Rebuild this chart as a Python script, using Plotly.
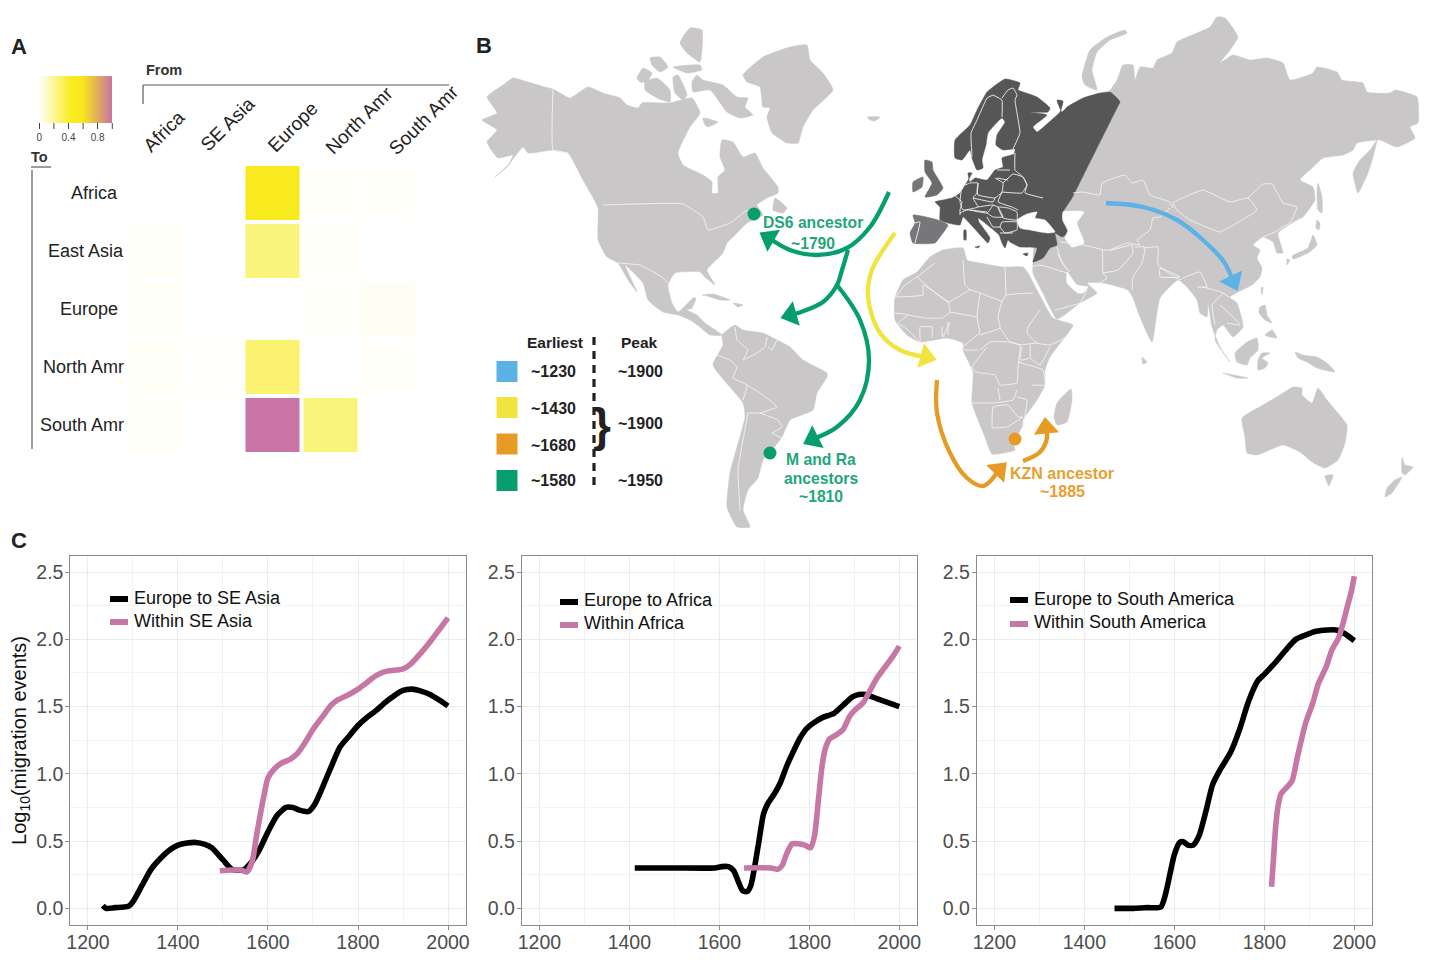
import plotly.graph_objects as go

W, H = 1440, 977
FONT = "Liberation Sans"

# ---------- panel A: migration proportions between regions ----------
FROM_REGIONS = ["Africa", "SE Asia", "Europe", "North Amr", "South Amr"]
TO_REGIONS = ["Africa", "East Asia", "Europe", "North Amr", "South Amr"]
TO_AFRICA = [0.0, 0.0, 0.52, 0.01, 0.01]
TO_EAST_ASIA = [0.015, 0.0, 0.26, 0.01, 0.0]
TO_EUROPE = [0.015, 0.0, 0.0, 0.01, 0.02]
TO_NORTH_AMR = [0.015, 0.005, 0.28, 0.0, 0.01]
TO_SOUTH_AMR = [0.015, 0.0, 1.0, 0.26, 0.0]
HEAT_SCALE = [[0, "#FFFFFF"], [0.44, "#F8EC1E"], [0.6, "#F8E71E"], [0.8, "#E2AD5C"], [1, "#C874A5"]]
HEAT_TICKS = [0, 0.4, 0.8]
HEAT_TICK_TEXT = ["0", "0.4", "0.8"]
HEAT_UNLABELLED_TICKS = [0.2, 0.6, 1.0]

# ---------- panel C: log10 migration events through time ----------
YEARS_SEA_EU = [1233, 1240, 1260, 1290, 1300, 1320, 1340, 1355, 1380, 1400, 1420, 1440, 1460, 1475, 1500, 1520, 1545, 1560, 1580, 1600, 1620, 1640, 1655, 1670, 1690, 1705, 1720, 1740, 1760, 1780, 1800, 1820, 1840, 1860, 1880, 1900, 1920, 1940, 1960, 1980, 2000]
LOG_SEA_EU = [0.02, 0.0, 0.005, 0.015, 0.05, 0.17, 0.29, 0.35, 0.43, 0.47, 0.485, 0.49, 0.475, 0.45, 0.36, 0.29, 0.285, 0.33, 0.43, 0.57, 0.69, 0.75, 0.75, 0.73, 0.72, 0.78, 0.89, 1.05, 1.2, 1.28, 1.36, 1.42, 1.47, 1.53, 1.58, 1.62, 1.63, 1.615, 1.59, 1.55, 1.505]
YEARS_SEA_IN = [1493, 1520, 1540, 1553, 1565, 1575, 1590, 1600, 1615, 1630, 1650, 1665, 1680, 1700, 1720, 1740, 1755, 1780, 1800, 1820, 1840, 1860, 1880, 1900, 1915, 1940, 1960, 1980, 2000]
LOG_SEA_IN = [0.28, 0.285, 0.285, 0.27, 0.35, 0.55, 0.82, 0.97, 1.04, 1.08, 1.11, 1.15, 1.22, 1.33, 1.42, 1.51, 1.55, 1.59, 1.63, 1.68, 1.73, 1.76, 1.77, 1.78, 1.81, 1.9, 1.98, 2.07, 2.16]
YEARS_AF_EU = [1412, 1500, 1590, 1605, 1620, 1632, 1642, 1652, 1662, 1670, 1678, 1688, 1698, 1708, 1722, 1735, 1750, 1765, 1780, 1795, 1810, 1830, 1855, 1875, 1895, 1910, 1925, 1950, 1975, 2000]
LOG_AF_EU = [0.3, 0.3, 0.3, 0.31, 0.31, 0.28, 0.2, 0.13, 0.125, 0.17, 0.3, 0.5, 0.7, 0.78, 0.85, 0.93, 1.06, 1.17, 1.27, 1.34, 1.38, 1.42, 1.45, 1.51, 1.57, 1.59, 1.59, 1.56, 1.53, 1.5]
YEARS_AF_IN = [1655, 1715, 1730, 1740, 1750, 1762, 1775, 1790, 1803, 1812, 1820, 1828, 1835, 1845, 1860, 1875, 1890, 1900, 1920, 1935, 1950, 1965, 1985, 2000]
LOG_AF_IN = [0.3, 0.3, 0.29, 0.32, 0.41, 0.48, 0.48, 0.47, 0.45, 0.55, 0.8, 1.05, 1.18, 1.26, 1.29, 1.33, 1.43, 1.47, 1.53, 1.62, 1.71, 1.78, 1.87, 1.95]
YEARS_SA_EU = [1467, 1510, 1540, 1570, 1580, 1590, 1600, 1612, 1620, 1630, 1642, 1655, 1670, 1685, 1700, 1725, 1745, 1765, 1785, 1800, 1825, 1850, 1870, 1890, 1915, 1940, 1960, 1980, 2000]
LOG_SA_EU = [0.0, 0.0, 0.005, 0.01, 0.1, 0.25, 0.4, 0.49, 0.495, 0.47, 0.47, 0.54, 0.72, 0.92, 1.02, 1.16, 1.33, 1.54, 1.69, 1.74, 1.83, 1.93, 2.0, 2.03, 2.06, 2.07, 2.07, 2.04, 1.99]
YEARS_SA_IN = [1816, 1820, 1825, 1830, 1837, 1850, 1862, 1872, 1880, 1892, 1908, 1920, 1938, 1950, 1965, 1975, 1985, 1993, 2000]
LOG_SA_IN = [0.16, 0.35, 0.6, 0.75, 0.85, 0.9, 0.95, 1.1, 1.22, 1.38, 1.53, 1.67, 1.8, 1.92, 2.01, 2.12, 2.25, 2.35, 2.47]

BLACK, PINK = "#000000", "#C677A6"
TIME_X_RANGE = [1160.7, 2040]
TIME_Y_RANGE = [-0.124, 2.62]

# ---------- panel B: simplified map outlines in planar map units ----------
NORTH_AMERICA = [(513,78),(528,82),(545,87),(553,89),(570,98),(588,87),(603,93),(620,98),(627,105),(638,108),(642,103),(670,103),(692,98),(700,113),(690,127),(678,153),(683,165),(703,175),(712,182),(712,193),(718,193),(718,177),(725,170),(720,157),(722,140),(733,142),(743,157),(755,153),(763,168),(778,187),(778,193),(767,198),(757,205),(763,215),(747,223),(737,233),(727,243),(723,253),(707,270),(715,285),(705,277),(700,272),(675,273),(668,285),(672,303),(678,312),(693,298),(696,298),(692,308),(687,310),(697,315),(705,323),(722,335),(710,335),(700,327),(690,320),(678,315),(663,312),(648,300),(643,283),(625,265),(637,292),(628,280),(618,263),(607,257),(598,240),(598,208),(583,180),(568,153),(553,150),(528,153),(523,147),(507,167),(495,177),(508,165),(513,155),(498,158),(487,142),(497,130),(482,120),(497,113),(487,97),(503,85)]
GREENLAND = [(743,75),(763,57),(790,47),(807,45),(810,60),(823,73),(833,90),(813,110),(803,127),(798,143),(787,143),(772,133),(767,117),(770,108),(763,107),(760,87),(747,82)]
ARCTIC_ISLANDS = [
    [(692,82),(697,75),(703,80),(723,85),(737,97),(748,98),(745,107),(753,115),(740,118),(727,112),(710,90),(693,92)],
    [(637,78),(643,68),(652,73),(647,82),(640,82)],
    [(645,82),(657,78),(670,90),(670,102),(657,98),(645,90)],
    [(673,77),(678,75),(687,95),(683,100),(675,93)],
    [(680,43),(690,28),(702,30),(700,62),(687,53)],
    [(650,58),(660,57),(668,67),(660,72),(652,65)],
    [(673,67),(700,65),(702,70),(687,73)],
    [(703,118),(718,122),(708,127),(705,125)],
    [(775,198),(787,208),(783,213),(773,210)],
    [(867,117),(880,117),(875,121),(870,120)],
]
CARIBBEAN = [
    [(702,295),(713,294),(730,300),(720,300),(707,296)],
    [(733,303),(743,305),(738,307)],
]
SOUTH_AMERICA = [(722,335),(735,325),(743,330),(763,333),(777,340),(790,347),(803,360),(827,373),(827,377),(817,393),(813,410),(790,420),(782,437),(772,450),(763,460),(758,478),(748,490),(743,510),(750,527),(737,527),(727,507),(730,473),(745,417),(743,403),(713,365),(723,345)]
AFRICA = [(963,248),(967,260),(980,263),(1003,267),(1023,267),(1028,273),(1037,290),(1053,318),(1073,325),(1065,337),(1050,357),(1045,370),(1045,385),(1037,400),(1023,420),(1022,427),(1013,443),(1015,450),(992,454),(985,437),(972,403),(973,372),(963,350),(963,343),(947,338),(920,342),(907,335),(895,320),(895,298),(903,280),(917,272),(930,257),(943,250)]
MADAGASCAR = [(1057,403),(1071,389),(1072,400),(1067,422),(1057,425),(1054,417)]
ASIA = [(1105,98),(1117,80),(1123,65),(1133,65),(1135,80),(1140,67),(1153,68),(1157,60),(1172,53),(1177,42),(1197,33),(1210,27),(1217,17),(1225,18),(1238,37),(1230,50),(1220,63),(1233,55),(1250,60),(1267,58),(1283,63),(1290,80),(1313,73),(1317,67),(1337,72),(1342,80),(1363,83),(1367,92),(1390,93),(1395,90),(1417,97),(1418,123),(1410,127),(1415,138),(1397,147),(1380,140),(1357,143),(1353,150),(1343,155),(1323,158),(1312,168),(1300,180),(1313,187),(1315,200),(1303,217),(1297,220),(1278,233),(1283,253),(1277,253),(1273,242),(1263,237),(1253,245),(1260,250),(1257,258),(1262,268),(1260,277),(1252,285),(1238,292),(1230,297),(1237,303),(1243,327),(1233,337),(1223,325),(1217,330),(1215,340),(1230,362),(1220,347),(1212,327),(1208,303),(1207,317),(1200,313),(1197,300),(1187,287),(1178,280),(1160,298),(1152,342),(1140,317),(1133,298),(1128,290),(1103,283),(1087,283),(1097,293),(1080,303),(1057,319),(1043,293),(1033,273),(1033,262),(1035,240),(1060,225),(1063,212),(1070,190),(1085,150)]
KAMCHATKA = [(1377,140),(1373,157),(1368,173),(1358,193),(1353,173),(1360,160),(1370,150)]
ASIAN_ISLANDS = [
    [(1125,30),(1127,33),(1110,40),(1097,52),(1092,70),(1097,90),(1085,85),(1082,77),(1090,50),(1107,37)],
    [(1292,256),(1308,248),(1313,235),(1317,245),(1308,253),(1293,259)],
    [(1317,220),(1320,223),(1319,230),(1316,228)],
    [(1287,259),(1290,260),(1287,265)],
    [(1318,183),(1322,197),(1322,213),(1318,210),(1317,193)],
    [(1235,353),(1247,342),(1257,338),(1258,350),(1250,358),(1247,365),(1237,362)],
    [(1258,360),(1262,353),(1270,353),(1262,358),(1268,363),(1265,368),(1258,370)],
    [(1295,352),(1303,355),(1317,357),(1327,363),(1335,372),(1317,368),(1307,362),(1298,358)],
    [(1223,373),(1248,378),(1237,378)],
    [(1260,307),(1265,305),(1267,315),(1272,323),(1265,320),(1259,313)],
    [(1265,335),(1272,330),(1277,338),(1270,337)],
    [(1261,288),(1263,287),(1262,295)],
    [(1142,357),(1147,362),(1143,364)],
]
AUSTRALIA = [(1242,418),(1263,405),(1280,395),(1293,387),(1302,388),(1302,395),(1312,403),(1318,388),(1327,400),(1337,412),(1347,425),(1345,443),(1338,460),(1325,468),(1312,462),(1300,452),(1283,445),(1257,455),(1247,453),(1245,437)]
OCEANIA_ISLANDS = [
    [(1325,476),(1333,475),(1329,486)],
    [(1402,457),(1405,465),(1413,467),(1405,475),(1402,473)],
    [(1402,477),(1392,493),(1385,497),(1387,488),(1395,480)],
]
EUROPE_RUSSIA = [(1120,102),(1118,99),(1110,92),(1100,93),(1083,98),(1067,107),(1062,112),(1057,100),(1063,101),(1060,112),(1048,123),(1037,132),(1033,127),(1047,115),(1030,112),(1048,112),(1050,108),(1037,97),(1023,92),(1018,90),(1020,83),(1005,79),(993,87),(987,92),(978,108),(970,125),(955,140),(955,158),(962,160),(970,150),(972,158),(977,170),(983,168),(982,160),(986,145),(988,133),(1002,118),(1005,122),(997,135),(996,145),(1003,150),(1015,149),(1014,154),(1002,158),(1003,167),(995,170),(987,180),(975,178),(970,182),(968,173),(972,173),(967,182),(960,193),(952,198),(935,202),(940,207),(940,220),(948,223),(960,225),(963,217),(973,227),(982,237),(988,243),(990,238),(979,222),(978,218),(990,227),(999,235),(1002,243),(1005,248),(1008,240),(1010,242),(1020,247),(1037,248),(1033,262),(1043,258),(1050,248),(1057,245),(1055,233),(1062,237),(1068,233),(1062,220),(1063,212),(1072,198),(1084,174),(1096,150),(1108,126),(1118,106)]
EUROPE_ISLANDS = [
    [(975,247),(980,246),(978,248)],
    [(964,230),(966,230),(966,240),(964,240)],
    [(1023,254),(1028,253),(1027,256)],
]
IBERIA = [(913,215),(938,220),(948,225),(940,237),(935,243),(913,243),(910,233),(915,223)]
BRITAIN = [(925,160),(932,162),(933,170),(943,188),(937,195),(925,197),(932,183),(925,172)]
IRELAND = [(913,182),(923,177),(922,187),(913,192)]
INLAND_SEAS = [
    [(1017,220),(1027,214),(1037,212),(1035,218),(1045,220),(1055,232),(1047,233),(1030,230),(1020,228)],
    [(1063,212),(1084,212),(1077,223),(1084,243),(1072,247),(1065,238),(1068,230),(1063,220)],
    [(1067,272),(1077,285),(1088,287),(1083,293),(1078,293),(1067,283)],
]
# country boundaries, each one an open polyline
BORDERS_AMERICAS = [
    [(553,89),(553,150),(568,153)],
    [(603,205),(683,204),(703,217),(708,230),(730,223),(747,210)],
    [(618,263),(640,265),(650,270),(662,277),(668,283)],
    [(735,327),(737,340),(748,350),(743,360)],
    [(743,360),(757,353),(765,347),(767,337)],
    [(777,340),(772,350),(768,347)],
    [(717,355),(730,360),(737,367),(733,378),(747,385),(743,400)],
    [(747,385),(763,395),(777,407),(760,413),(748,413)],
    [(760,413),(778,420),(782,427),(772,433)],
    [(772,433),(785,440)],
    [(748,413),(738,470),(740,510)],
]
BORDERS_AFRICA = [
    [(935,263),(917,277),(905,285),(895,298)],
    [(917,277),(948,302),(970,290),(980,293)],
    [(963,260),(965,285),(970,290)],
    [(1005,267),(1006,295)],
    [(980,293),(1002,301),(1006,295),(1033,293)],
    [(980,293),(977,317),(980,333)],
    [(1002,301),(998,317),(1000,328),(980,335)],
    [(1000,328),(1010,342),(1020,345)],
    [(1040,310),(1028,327),(1027,333),(1037,343),(1050,345),(1065,338)],
    [(1020,345),(1037,343)],
    [(897,297),(923,295),(923,285),(948,302),(950,312),(942,318),(925,318),(908,315)],
    [(950,312),(977,317)],
    [(950,322),(943,337)],
    [(980,333),(963,347),(965,350),(978,350)],
    [(980,350),(990,342),(1010,342),(1020,345),(1018,367),(1017,383),(1000,385),(995,375),(975,372),(972,367),(987,347)],
    [(1018,362),(1043,370),(1045,385),(1032,385)],
    [(1022,347),(1020,360),(1030,358),(1030,345)],
    [(1030,358),(1040,365),(1050,347)],
    [(972,403),(993,403),(1013,400),(1017,390)],
    [(998,388),(1000,400)],
    [(992,428),(993,407),(1008,405),(1018,417),(1023,417)],
    [(992,428),(1007,427),(1023,417)],
    [(1017,397),(1027,400),(1023,427)],
    [(895,313),(908,315),(898,323),(908,330),(920,342),(920,327),(932,327),(932,338)],
    [(942,327),(942,337)],
    [(948,322),(948,335)],
]
BORDERS_ASIA = [
    [(1073,193),(1083,192),(1100,195),(1102,183),(1125,175),(1132,183),(1143,180),(1150,195),(1170,202),(1173,208)],
    [(1173,203),(1203,190),(1230,202),(1248,198),(1257,210),(1237,223),(1220,232),(1190,220),(1177,210),(1173,203)],
    [(1248,198),(1263,184),(1272,184),(1283,203),(1297,207),(1290,223),(1282,227),(1275,232),(1263,237)],
    [(1170,208),(1160,217),(1153,218),(1150,230),(1137,240),(1140,245),(1127,243),(1110,250)],
    [(1060,242),(1083,245),(1102,250),(1103,273),(1107,278),(1100,283)],
    [(1102,250),(1112,250),(1132,245),(1133,253),(1118,270),(1103,273)],
    [(1135,247),(1145,247),(1142,263),(1133,277),(1132,290)],
    [(1143,248),(1158,247),(1158,265),(1180,280),(1185,277),(1200,272),(1207,287),(1197,287)],
    [(1160,268),(1180,277),(1160,277),(1160,268)],
    [(1203,287),(1223,293),(1212,305),(1215,325)],
    [(1223,293),(1237,302)],
    [(1220,305),(1233,317),(1240,325),(1227,323)],
    [(1030,267),(1040,265),(1067,273)],
    [(1057,247),(1062,263),(1070,272)],
    [(1055,310),(1080,303),(1087,290)],
    [(1057,253),(1067,270)],
]
BORDERS_EUROPE = [
    [(993,95),(987,98),(977,120),(971,133),(972,157)],
    [(993,95),(1002,100),(1002,117)],
    [(1002,98),(1008,90),(1013,88),(1017,95),(1015,100),(1020,133),(1013,149)],
    [(1015,153),(1015,170),(1023,177),(1027,185),(1025,193),(1043,198)],
    [(997,170),(1010,170)],
    [(997,178),(1008,180)],
    [(978,183),(977,190),(978,195),(995,198),(1002,192),(1003,183),(995,178)],
    [(1003,183),(1013,174),(1023,177),(1027,185),(1022,193),(1002,192)],
    [(1002,192),(998,202),(1012,207),(1018,210)],
    [(998,207),(1008,208),(1017,212),(1017,220),(1003,218),(998,207)],
    [(962,187),(970,183),(978,183),(977,193),(973,198),(978,207),(963,210),(960,202),(962,187)],
    [(954,195),(962,202),(960,210),(960,215)],
    [(960,213),(967,210),(987,212)],
    [(978,207),(993,205),(987,213),(970,210)],
    [(973,198),(993,202),(995,198)],
    [(993,205),(998,207),(1003,217),(993,217),(987,213)],
    [(1002,222),(1017,222),(1017,230),(1005,233),(1000,227),(1002,222)],
    [(987,217),(993,227),(1000,227)],
    [(1000,233),(1013,233)],
    [(954,195),(963,188)],
]
IBERIA_BORDER = [(915,223),(920,222),(915,243)]

LAND_GREY = "#C9C7C7"
EUROPE_GREY = "#565656"
IBERIA_GREY = "#77777A"
ISLES_GREY = "#6C6C6C"

# migration routes: shaft waypoints, previous point and centre of the arrowhead
GREEN, YELLOW, ORANGE, BLUE = "#079E6F", "#F2E43E", "#E59B25", "#5AB2E5"
ROUTES = [
    (GREEN, [(889,192),(870,227),(847,248),(817,255),(790,250),(769,238)]),
    (GREEN, [(848,250),(842,270),(837,285),(823,302),(798,313),(791,315)]),
    (GREEN, [(837,285),(860,320),(869,360),(860,400),(837,427),(813,439)]),
    (YELLOW, [(895,233),(872,270),(868,297),(880,333),(900,350),(926,357)]),
    (ORANGE, [(937,380),(937,413),(950,453),(967,478),(983,486),(999,470)]),
    (ORANGE, [(1023,461),(1040,452),(1047,438),(1046,428)]),
    (BLUE, [(1106,203),(1143,207),(1177,220),(1203,240),(1224,262),(1233,281)]),
]
ANCESTOR_SITES = [(754,214,GREEN),(770,453,GREEN),(1015,439,ORANGE)]
ROUTE_COLOURS = [BLUE, YELLOW, ORANGE, GREEN]
EARLIEST = ["~1230", "~1430", "~1680", "~1580"]
PEAK = ["~1900", "~1900", "~1950"]


def px(x):
    return x / W


def py(y):
    return 1 - y / H


def polygon_xy(polys):
    xs, ys = [], []
    for poly in polys:
        xs += [p[0] for p in poly] + [poly[0][0], None]
        ys += [p[1] for p in poly] + [poly[0][1], None]
    return xs, ys


def polyline_xy(lines):
    xs, ys = [], []
    for line in lines:
        xs += [p[0] for p in line] + [None]
        ys += [p[1] for p in line] + [None]
    return xs, ys


fig = go.Figure()

# heatmap
BAR_LEFT, BAR_WIDTH, BAR_TOP, BAR_HEIGHT = 39.3, 73, 76, 47
fig.add_trace(go.Heatmap(
    z=[TO_AFRICA, TO_EAST_ASIA, TO_EUROPE, TO_NORTH_AMR, TO_SOUTH_AMR],
    x=FROM_REGIONS, y=TO_REGIONS, xaxis="x4", yaxis="y4",
    zmin=0, zmax=1, colorscale=HEAT_SCALE, xgap=4, ygap=4, hoverinfo="skip",
    colorbar=dict(
        orientation="h", x=px(BAR_LEFT + BAR_WIDTH / 2), xanchor="center", y=py(BAR_TOP), yanchor="top",
        len=BAR_WIDTH, lenmode="pixels", thickness=BAR_HEIGHT, thicknessmode="pixels",
        xpad=0, ypad=0, outlinewidth=0, borderwidth=0,
        tickmode="array", tickvals=HEAT_TICKS, ticktext=HEAT_TICK_TEXT,
        ticks="outside", ticklen=6, tickcolor="#444444", tickwidth=1,
        tickfont=dict(family=FONT, size=10, color="#444444"),
    ),
))

# map
def add_land(polys, colour):
    xs, ys = polygon_xy(polys)
    fig.add_trace(go.Scatter(x=xs, y=ys, xaxis="x5", yaxis="y5", mode="lines", fill="toself",
                             fillcolor=colour, line=dict(color=colour, width=0.5, shape="spline", smoothing=0.45),
                             hoverinfo="skip", showlegend=False))


def add_borders(lines, width=0.9):
    xs, ys = polyline_xy(lines)
    fig.add_trace(go.Scatter(x=xs, y=ys, xaxis="x5", yaxis="y5", mode="lines",
                             line=dict(color="#F4F2F2", width=width, shape="spline", smoothing=0.3),
                             hoverinfo="skip", showlegend=False))


add_land([NORTH_AMERICA, GREENLAND, SOUTH_AMERICA, AFRICA, MADAGASCAR, ASIA, KAMCHATKA, AUSTRALIA]
         + ARCTIC_ISLANDS + CARIBBEAN + ASIAN_ISLANDS + OCEANIA_ISLANDS, LAND_GREY)
add_land([EUROPE_RUSSIA] + EUROPE_ISLANDS, EUROPE_GREY)
add_land([IBERIA, IRELAND], IBERIA_GREY)
add_land([BRITAIN], ISLES_GREY)
add_land(INLAND_SEAS, "#FFFFFF")
add_borders(BORDERS_AMERICAS + BORDERS_AFRICA + BORDERS_ASIA + BORDERS_EUROPE + [IBERIA_BORDER])

for colour, path in ROUTES:
    fig.add_trace(go.Scatter(x=[p[0] for p in path], y=[p[1] for p in path], xaxis="x5", yaxis="y5",
                             mode="lines", line=dict(color=colour, width=4.3, shape="spline", smoothing=1),
                             hoverinfo="skip", showlegend=False))
    fig.add_trace(go.Scatter(x=[p[0] for p in path[-2:]], y=[p[1] for p in path[-2:]], xaxis="x5", yaxis="y5",
                             mode="markers",
                             marker=dict(symbol="triangle-up", size=[0, 22], color=colour, angleref="previous",
                                         opacity=1, line=dict(width=0)),
                             hoverinfo="skip", showlegend=False))

fig.add_trace(go.Scatter(x=[s[0] for s in ANCESTOR_SITES], y=[s[1] for s in ANCESTOR_SITES],
                         xaxis="x5", yaxis="y5", mode="markers",
                         marker=dict(size=13, color=[s[2] for s in ANCESTOR_SITES], line=dict(width=0)),
                         hoverinfo="skip", showlegend=False))

# legend of routes
SWATCH_ROWS = [371.5, 407.5, 444, 480.5]
fig.add_trace(go.Scatter(x=[507] * 4, y=SWATCH_ROWS, xaxis="x5", yaxis="y5", mode="markers",
                         marker=dict(symbol="square", size=21, color=ROUTE_COLOURS, line=dict(width=0)),
                         hoverinfo="skip", showlegend=False))
fig.add_trace(go.Scatter(x=[594, 594], y=[337, 490], xaxis="x5", yaxis="y5", mode="lines",
                         line=dict(color="#222222", width=3.2, dash="8px,6px"),
                         hoverinfo="skip", showlegend=False))

# time series panels
PANELS = [
    dict(ax="", left=70.3, right=466, eu=(YEARS_SEA_EU, LOG_SEA_EU), within=(YEARS_SEA_IN, LOG_SEA_IN),
         names=("Europe to SE Asia", "Within SE Asia"), swatch=110, text=132, rows=(599, 622, 598, 620.5), box=(100, 255)),
    dict(ax="2", left=521.7, right=917.3, eu=(YEARS_AF_EU, LOG_AF_EU), within=(YEARS_AF_IN, LOG_AF_IN),
         names=("Europe to Africa", "Within Africa"), swatch=560, text=582, rows=(602, 625, 600, 622.5), box=(550, 686)),
    dict(ax="3", left=976.7, right=1372.3, eu=(YEARS_SA_EU, LOG_SA_EU), within=(YEARS_SA_IN, LOG_SA_IN),
         names=("Europe to South America", "Within South America"), swatch=1010, text=1032, rows=(600, 624, 599, 621.5), box=(998, 1160)),
]
TOP, BOTTOM = 556, 925

annotations = []
shapes = []
layout_axes = {}


def label(x, y, text, size, colour="#222222", bold=False, xanchor="center", angle=0):
    annotations.append(dict(x=px(x), y=py(y), xref="paper", yref="paper", text=f"<b>{text}</b>" if bold else text,
                            showarrow=False, xanchor=xanchor, yanchor="middle", textangle=angle,
                            font=dict(family=FONT, size=size, color=colour)))


for p in PANELS:
    ax = p["ax"]
    fig.add_trace(go.Scatter(x=p["eu"][0], y=p["eu"][1], xaxis="x" + ax, yaxis="y" + ax, mode="lines", name=p["names"][0],
                             line=dict(color=BLACK, width=5.6, shape="spline", smoothing=0.6), showlegend=False))
    fig.add_trace(go.Scatter(x=p["within"][0], y=p["within"][1], xaxis="x" + ax, yaxis="y" + ax, mode="lines", name=p["names"][1],
                             line=dict(color=PINK, width=5.6, shape="spline", smoothing=0.6), showlegend=False))
    common = dict(showline=True, mirror=True, linecolor="#8C8C8C", linewidth=1, ticks="outside", ticklen=4,
                  tickcolor="#8C8C8C", zeroline=False, showgrid=True, gridcolor="#ECECEC", gridwidth=1.3,
                  tickfont=dict(family=FONT, size=19.5, color="#4D4D4D"))
    layout_axes["xaxis" + ax] = dict(
        common, domain=[px(p["left"]), px(p["right"])], anchor="y" + ax, range=TIME_X_RANGE,
        tick0=1200, dtick=200, ticklabelstandoff=-4,
        minor=dict(dtick=100, tick0=1200, showgrid=True, gridcolor="#F3F3F3", gridwidth=1, ticks=""))
    layout_axes["yaxis" + ax] = dict(
        common, domain=[py(BOTTOM), py(TOP)], anchor="x" + ax, range=TIME_Y_RANGE,
        tick0=0, dtick=0.5, tickformat=".1f", ticklabelstandoff=-2,
        minor=dict(dtick=0.25, tick0=0, showgrid=True, gridcolor="#F3F3F3", gridwidth=1, ticks=""))

    # white backing and swatches for the in-plot key, in this panel's own data units
    def x_data(v, left=p["left"], right=p["right"]):
        return TIME_X_RANGE[0] + (v - left) / (right - left) * (TIME_X_RANGE[1] - TIME_X_RANGE[0])

    def y_data(v):
        return TIME_Y_RANGE[0] + (BOTTOM - v) / (BOTTOM - TOP) * (TIME_Y_RANGE[1] - TIME_Y_RANGE[0])

    xref, yref = "x" + ax, "y" + ax
    shapes.append(dict(type="rect", xref=xref, yref=yref, layer="below", line=dict(width=0), fillcolor="#FFFFFF",
                       x0=x_data(p["box"][0]), x1=x_data(p["box"][1]), y0=y_data(563), y1=y_data(642)))
    for row, colour in zip(p["rows"][:2], (BLACK, PINK)):
        shapes.append(dict(type="rect", xref=xref, yref=yref, layer="above", line=dict(width=0), fillcolor=colour,
                           x0=x_data(p["swatch"]), x1=x_data(p["swatch"] + 18),
                           y0=y_data(row - 3), y1=y_data(row + 3)))
    for row, name in zip(p["rows"][2:], p["names"]):
        label(p["text"], row, name, 18, "#111111", xanchor="left")

layout_axes["yaxis"]["title"] = dict(text="Log<sub>10</sub>(migration events)", standoff=4,
                                     font=dict(family=FONT, size=20, color="#111111"))

layout_axes["xaxis4"] = dict(domain=[px(127.5), px(417.5)], anchor="y4", side="top", showgrid=False, zeroline=False,
                             showline=False, ticks="", showticklabels=False)
layout_axes["yaxis4"] = dict(domain=[py(454), py(164)], anchor="x4", autorange="reversed", showgrid=False,
                             zeroline=False, showline=False, showticklabels=False, ticks="")
layout_axes["xaxis5"] = dict(domain=[px(470), px(1430)], anchor="y5", range=[470, 1430], visible=False)
layout_axes["yaxis5"] = dict(domain=[py(530), py(10)], anchor="x5", range=[530, 10], visible=False)

# column and row labels of the heatmap
COL_LABEL_X = [164, 227, 292, 359, 423]
COL_LABEL_Y = [132, 124, 127, 120, 120]
for name, x, y in zip(FROM_REGIONS, COL_LABEL_X, COL_LABEL_Y):
    label(x, y, name, 19, "#222222", angle=-45)
ROW_LABEL_RIGHT = [120, 126, 120, 126, 126]
ROW_LABEL_Y = [193, 251, 309, 367, 425]
for name, right, y in zip(TO_REGIONS, ROW_LABEL_RIGHT, ROW_LABEL_Y):
    label(right, y, name, 18, "#222222", xanchor="right")

# colour bar ticks that carry no label
for value in HEAT_UNLABELLED_TICKS:
    tick_x = BAR_LEFT + value * BAR_WIDTH
    shapes.append(dict(type="line", xref="paper", yref="paper", x0=px(tick_x), x1=px(tick_x),
                       y0=py(BAR_TOP + BAR_HEIGHT), y1=py(BAR_TOP + BAR_HEIGHT + 6),
                       line=dict(color="#444444", width=1)))

# panel letters and headings
label(19, 46, "A", 22, "#222222", True)
label(484, 45, "B", 22, "#222222", True)
label(19, 540, "C", 22, "#222222", True)
label(144, 70, "From", 14.5, "#333333", True, xanchor="left")
label(29, 157, "To", 14.5, "#333333", True, xanchor="left")

# bracket lines of panel A
for x0, y0, x1, y1 in [(143, 104, 143, 85), (143, 85, 449, 85), (32, 170, 32, 449), (31, 167, 51, 167)]:
    shapes.append(dict(type="line", xref="paper", yref="paper", x0=px(x0), y0=py(y0), x1=px(x1), y1=py(y1),
                       line=dict(color="#5A5A5A", width=1.2)))

# map labels
TEAL_TEXT, AMBER_TEXT = "#1FA67B", "#E6A030"
label(813, 223, "DS6 ancestor", 15.7, TEAL_TEXT, True)
label(813, 243, "~1790", 15.7, TEAL_TEXT, True)
label(821, 459, "M and Ra", 15.7, TEAL_TEXT, True)
label(821, 478, "ancestors", 15.7, TEAL_TEXT, True)
label(821, 497, "~1810", 15.7, TEAL_TEXT, True)
label(1062, 473, "KZN ancestor", 16, AMBER_TEXT, True)
label(1062, 492, "~1885", 16, AMBER_TEXT, True)

# key of the routes
label(555, 342, "Earliest", 15.5, "#222222", True)
label(639, 342, "Peak", 15.5, "#222222", True)
for text, y in zip(EARLIEST, [372, 408, 445, 481]):
    label(553, y, text, 16, "#222222", True)
for text, y in zip(PEAK, [372, 423, 481]):
    label(640, y, text, 16, "#222222", True)
label(602, 425, "}", 46, "#222222", True)

fig.update_layout(
    width=W, height=H, margin=dict(l=0, r=0, t=0, b=0, autoexpand=False), autosize=False,
    paper_bgcolor="#FFFFFF", plot_bgcolor="#FFFFFF", showlegend=False,
    annotations=annotations, shapes=shapes, **layout_axes,
)

fig.write_html("out.html")
